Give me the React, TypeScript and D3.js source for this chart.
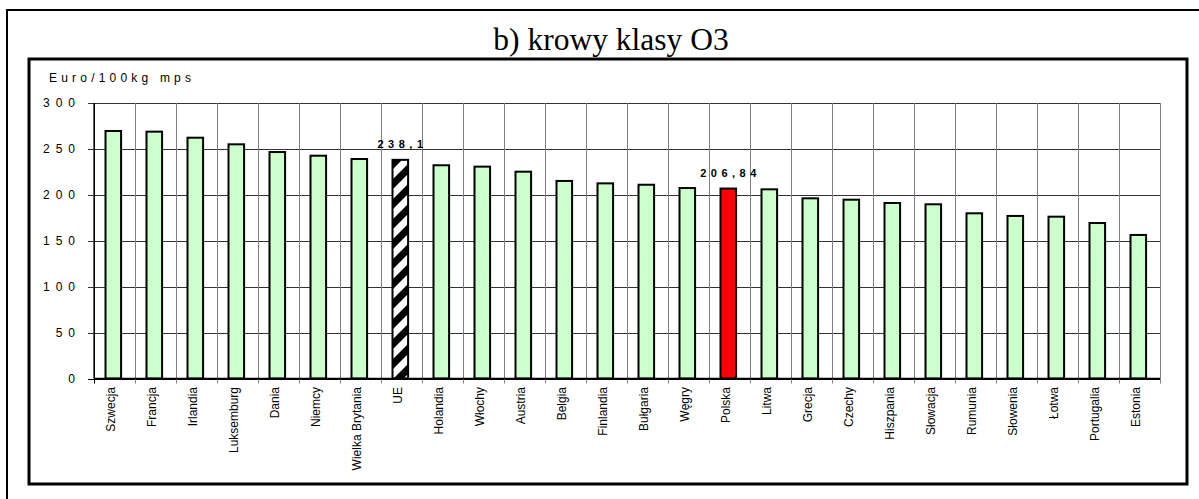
import React from "react";
import * as d3 from "d3";

const categories = [
  "Szwecja", "Francja", "Irlandia", "Luksemburg", "Dania", "Niemcy",
  "Wielka Brytania", "UE", "Holandia", "Włochy", "Austria", "Belgia",
  "Finlandia", "Bułgaria", "Węgry", "Polska", "Litwa", "Grecja", "Czechy",
  "Hiszpania", "Słowacja", "Rumunia", "Słowenia", "Łotwa", "Portugalia", "Estonia",
];
const values = [
  269.5, 268.8, 262.2, 255.0, 246.6, 242.6, 239.0, 238.1, 232.2, 230.7, 225.2,
  215.1, 212.5, 211.0, 207.4, 206.84, 206.0, 196.2, 194.7, 191.1, 189.7, 179.9,
  177.0, 176.2, 169.3, 156.3,
];
const yTicks = [0, 50, 100, 150, 200, 250, 300];
const labelled: Record<string, string> = { UE: "238,1", Polska: "206,84" };
const title = "b) krowy klasy O3";
const yTitle = "Euro/100kg mps";

const W = 1199;
const H = 499;
const plotL = 94;
const plotR = 1160;
const plotT = 103;
const plotB = 378.5;

export default function App() {
  const x = d3.scaleBand<string>().domain(categories).range([plotL, plotR]).padding(0);
  const y = d3.scaleLinear().domain([0, 300]).range([plotB, plotT]);
  const bw = x.bandwidth();
  const barW = bw * 0.38;
  const sans = "'Liberation Sans', Arial, sans-serif";

  return (
    <svg
      width={W}
      height={H}
      style={{ position: "absolute", left: 0, top: 0, background: "#fff" }}
    >
      <defs>
        <pattern id="stripes" patternUnits="userSpaceOnUse" width={20} height={20} x={2} y={0}>
          <rect width={20} height={20} fill="#fff" />
          <polygon points="10,0 20,0 0,20 0,10" fill="#000" />
          <polygon points="20,10 20,20 10,20" fill="#000" />
        </pattern>
      </defs>
      {/* outer frame */}
      <rect x={7} y={10} width={1230} height={520} fill="none" stroke="#000" strokeWidth={2} />
      {/* inner frame */}
      <rect x={29} y={59} width={1158} height={425} fill="#fff" stroke="#000" strokeWidth={3} />
      {/* title */}
      <text
        x={611}
        y={50}
        textAnchor="middle"
        fontFamily="'Liberation Serif', 'Times New Roman', serif"
        fontSize={31.5}
        fill="#000"
      >
        {title}
      </text>
      {/* y axis title */}
      <text x={49} y={81.5} fontFamily={sans} fontSize={12} letterSpacing={4.2} fill="#000">
        {yTitle}
      </text>
      {/* horizontal gridlines */}
      {yTicks.map((t) => (
        <line
          key={"h" + t}
          x1={plotL - 6}
          x2={plotR}
          y1={Math.round(y(t)) + 0.5}
          y2={Math.round(y(t)) + 0.5}
          stroke={t === 0 ? "#000" : "#333"}
          strokeWidth={1}
        />
      ))}
      {/* vertical gridlines / category separators */}
      {categories.map((c, i) => (
        <line
          key={"v" + c}
          x1={Math.round(x(c)!) + 0.5}
          x2={Math.round(x(c)!) + 0.5}
          y1={plotT}
          y2={plotB + 5}
          stroke={i === 0 ? "#000" : "#808080"}
          strokeWidth={1}
        />
      ))}
      <line x1={plotR + 0.5} x2={plotR + 0.5} y1={plotT} y2={plotB + 5} stroke="#808080" />
      {/* y tick labels */}
      {yTicks.map((t) => (
        <text
          key={"yl" + t}
          x={81}
          y={y(t)}
          dy="0.36em"
          textAnchor="end"
          fontFamily={sans}
          fontSize={12}
          letterSpacing={6}
          fill="#000"
        >
          {t}
        </text>
      ))}
      {/* bars */}
      {categories.map((c, i) => {
        const bx = x(c)! + (bw - barW) / 2 - 1.2;
        const fill = c === "UE" ? "url(#stripes)" : c === "Polska" ? "#FF0000" : "#CCFFCC";
        return (
          <rect
            key={"b" + c}
            x={bx}
            y={y(values[i])}
            width={barW}
            height={plotB - y(values[i])}
            fill={fill}
            stroke="#000"
            strokeWidth={2}
          />
        );
      })}
      {/* axis lines on top */}
      <line x1={plotL} x2={plotR} y1={plotB} y2={plotB} stroke="#000" strokeWidth={1.5} />
      <line x1={plotL} x2={plotL} y1={plotT} y2={plotB} stroke="#000" strokeWidth={1.2} />
      {/* data labels */}
      {categories.map((c, i) =>
        labelled[c] ? (
          <text
            key={"dl" + c}
            x={x(c)! + bw / 2 + 1}
            y={y(values[i]) - 12}
            textAnchor="middle"
            fontFamily={sans}
            fontSize={11}
            fontWeight="bold"
            letterSpacing={4.5}
            fill="#000"
          >
            {labelled[c]}
          </text>
        ) : null
      )}
      {/* category labels */}
      {categories.map((c) => {
        const cx = x(c)! + bw / 2 - 4;
        return (
          <text
            key={"xl" + c}
            transform={`translate(${cx},387) rotate(-90)`}
            dy="0.36em"
            textAnchor="end"
            fontFamily={sans}
            fontSize={12}
            fill="#000"
          >
            {c}
          </text>
        );
      })}
    </svg>
  );
}
